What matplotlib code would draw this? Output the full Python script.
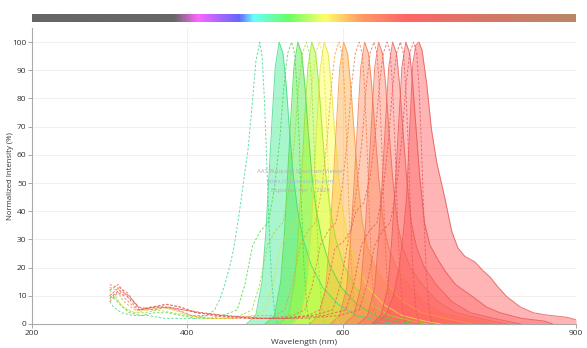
import matplotlib
matplotlib.use("Agg")
import matplotlib.pyplot as plt
import numpy as np
from matplotlib.colors import LinearSegmentedColormap

plt.rcParams['font.family'] = ['Open Sans', 'DejaVu Sans']

# ---- emission spectra (filled): wavelength (nm), normalized intensity (%) ----
em1_wl = [476, 488, 496, 501, 505, 509, 513, 518, 523, 527, 531, 536, 542, 549, 559, 574, 594, 618, 648, 668]
em1_v  = [0, 3, 15, 33, 53, 73, 91, 100, 96, 85, 70, 53, 40, 30, 21, 13, 7, 3, 1, 0]

em2_wl = [500, 512, 520, 525, 529, 533, 537, 542, 547, 551, 555, 560, 566, 573, 583, 598, 618, 642, 672, 692]
em2_v  = [0, 3, 15, 33, 53, 73, 91, 100, 96, 85, 70, 53, 40, 30, 21, 13, 7, 3, 1, 0]

em3_wl = [518, 530, 538, 543, 547, 551, 555, 560, 565, 569, 573, 578, 584, 591, 601, 616, 636, 660, 690, 710]
em3_v  = [0, 3, 15, 33, 53, 73, 91, 100, 96, 85, 70, 53, 40, 30, 21, 13, 7, 3, 1, 0]

em4_wl = [534, 546, 554, 559, 563, 567, 571, 576, 581, 585, 589, 594, 600, 607, 617, 632, 652, 676, 706, 726]
em4_v  = [0, 3, 15, 33, 53, 73, 91, 100, 96, 85, 70, 53, 40, 30, 21, 13, 7, 3, 1, 0]

em5_wl = [557, 569, 578, 583, 588, 592, 596, 601, 606, 610, 614, 619, 625, 632, 642, 657, 677, 701, 731, 766]
em5_v  = [0, 3, 13, 30, 52, 72, 91, 100, 96, 85, 70, 52, 36, 27, 20, 14, 8, 4, 2, 0]

em6_wl = [584, 596, 605, 610, 615, 619, 623, 628, 633, 637, 641, 646, 652, 659, 669, 684, 704, 728, 758, 793]
em6_v  = [0, 3, 13, 30, 52, 72, 91, 100, 96, 85, 70, 52, 36, 27, 20, 14, 8, 4, 2, 0]

em7_wl = [602, 614, 623, 628, 633, 637, 641, 646, 651, 655, 659, 664, 670, 677, 687, 702, 722, 746, 776, 811]
em7_v  = [0, 3, 13, 30, 52, 72, 91, 100, 96, 85, 70, 52, 36, 27, 20, 14, 8, 4, 2, 0]

em8_wl = [620, 632, 641, 646, 651, 655, 659, 664, 669, 673, 677, 682, 688, 695, 705, 720, 740, 764, 794, 829]
em8_v  = [0, 3, 13, 30, 52, 72, 91, 100, 96, 85, 70, 52, 36, 27, 20, 14, 8, 4, 2, 0]

em9_wl = [637, 649, 658, 663, 668, 672, 676, 681, 686, 690, 694, 699, 705, 712, 722, 731, 745, 767, 785, 802, 830, 860, 870]
em9_v  = [0, 3, 13, 30, 52, 72, 91, 100, 96, 85, 70, 52, 36, 28, 23, 19, 14, 9.7, 6, 4, 2, 1, 0]

em10_wl = [640, 655, 665, 673, 678, 682, 686, 690, 694, 698, 702, 708, 714, 721, 731, 740, 748, 757, 770, 780, 789, 800, 811, 828, 845, 862, 888, 900]
em10_v  = [0, 3, 10, 21, 33, 45, 69, 92.5, 99, 100, 97, 85, 69, 57, 45, 33, 27, 24, 22, 19, 16.8, 13, 9.7, 6.1, 4, 3.2, 2.4, 1.5]

# ---- excitation spectra (dashed) ----
ex1_wl = [300, 305, 315, 330, 350, 370, 390, 410, 425, 435, 442, 448, 454, 459, 466, 472, 478, 484, 488, 493, 496, 499, 502, 505, 508, 512, 516]
ex1_v  = [8, 6, 4, 3, 3, 2, 2, 2, 3, 5, 9, 14, 20, 26, 38, 50, 62, 80, 93, 100, 95, 80, 58, 35, 17, 4, 0]

ex2_wl = [300, 306, 313, 325, 340, 358, 375, 392, 410, 430, 445, 455,
          464, 474, 484, 494, 504, 512, 519, 524, 529, 534, 538, 541, 544, 547, 550, 554, 558]
ex2_v  = [10, 9, 7, 4, 3, 4, 4, 3, 2, 2, 3, 4,
          5, 14, 28, 33, 36, 48, 66, 84, 96, 100, 96, 84, 64, 40, 20, 5, 0]

ex3_wl = [300, 307, 316, 330, 345, 362, 380, 400, 425, 450, 468,
          483, 493, 503, 513, 523, 531, 538, 543, 548, 553, 557, 560, 563, 566, 569, 573, 577]
ex3_v  = [12, 10, 6, 4, 4, 5, 4, 3, 2, 2, 3,
          5, 14, 28, 33, 36, 48, 66, 84, 96, 100, 96, 84, 64, 40, 20, 5, 0]

ex4_wl = [300, 308, 318, 332, 348, 365, 382, 400, 425, 455, 485,
          500, 510, 520, 530, 540, 548, 555, 560, 565, 570, 574, 577, 580, 583, 586, 590, 594]
ex4_v  = [11, 9, 6, 4, 5, 6, 5, 3, 2, 2, 3,
          5, 14, 28, 33, 36, 48, 66, 84, 96, 100, 96, 84, 64, 40, 20, 5, 0]

ex5_wl = [300, 309, 318, 332, 350, 368, 385, 405, 430, 460, 490, 512,
          525, 535, 545, 555, 565, 573, 580, 585, 590, 595, 599, 602, 605, 608, 611, 615, 619]
ex5_v  = [13, 12, 8, 5, 5, 6, 5, 3, 2, 2, 3, 3,
          5, 14, 28, 33, 36, 48, 66, 84, 96, 100, 96, 84, 64, 40, 20, 5, 0]

ex6_wl = [300, 310, 320, 335, 352, 370, 388, 405, 430, 460, 500, 535,
          551, 561, 571, 581, 591, 599, 606, 611, 616, 621, 625, 628, 631, 634, 637, 641, 645]
ex6_v  = [14, 13, 9, 5, 6, 6, 5, 3, 3, 2, 2, 3,
          5, 14, 28, 33, 36, 48, 66, 84, 96, 100, 96, 84, 64, 40, 20, 5, 0]

ex7_wl = [300, 311, 322, 336, 354, 372, 390, 410, 440, 480, 520, 555,
          570, 580, 590, 600, 610, 618, 625, 630, 635, 640, 644, 647, 650, 653, 656, 660, 664]
ex7_v  = [12, 14, 10, 5, 6, 7, 6, 4, 3, 2, 2, 3,
          5, 14, 27, 29, 33, 48, 66, 84, 96, 100, 96, 84, 64, 40, 20, 5, 0]

ex8_wl = [300, 312, 323, 338, 356, 374, 392, 412, 440, 480, 520, 560,
          587, 597, 607, 617, 627, 635, 642, 647, 652, 657, 661, 664, 667, 670, 673, 677, 681]
ex8_v  = [10, 13, 11, 5, 6, 7, 6, 4, 3, 2, 2, 3,
          5, 14, 30, 40, 43, 52, 68, 85, 96, 100, 96, 84, 64, 40, 20, 5, 0]

ex9_wl = [300, 312, 325, 340, 358, 376, 395, 415, 445, 490, 530, 575,
          604, 614, 624, 634, 644, 652, 659, 664, 669, 674, 678, 681, 684, 687, 690, 694, 698]
ex9_v  = [9, 12, 10, 5, 6, 6, 5, 4, 3, 2, 2, 3,
          5, 14, 28, 33, 36, 48, 66, 84, 96, 100, 96, 84, 64, 40, 20, 5, 0]

ex10_wl = [300, 310, 322, 338, 356, 375, 395, 420, 450, 500, 550, 595,
           621, 631, 641, 651, 661, 669, 676, 681, 686, 691, 695, 698, 701, 704, 707, 711, 715]
ex10_v  = [8, 11, 10, 6, 5, 6, 5, 4, 3, 2, 2, 3,
           5, 14, 28, 33, 36, 48, 66, 84, 96, 100, 96, 84, 64, 40, 20, 5, 0]

emissions = [(em1_wl, em1_v), (em2_wl, em2_v), (em3_wl, em3_v), (em4_wl, em4_v), (em5_wl, em5_v),
             (em6_wl, em6_v), (em7_wl, em7_v), (em8_wl, em8_v), (em9_wl, em9_v), (em10_wl, em10_v)]
excitations = [(ex1_wl, ex1_v), (ex2_wl, ex2_v), (ex3_wl, ex3_v), (ex4_wl, ex4_v), (ex5_wl, ex5_v),
               (ex6_wl, ex6_v), (ex7_wl, ex7_v), (ex8_wl, ex8_v), (ex9_wl, ex9_v), (ex10_wl, ex10_v)]

fill_colors = ['#41eb91', '#4beb41', '#a5ff23', '#ffff43', '#ffab41',
               '#ff8a55', '#ff7a5c', '#ff6a60', '#ff6060', '#ff5c5c']
fill_alpha = [0.45, 0.45, 0.45, 0.45, 0.45, 0.42, 0.40, 0.40, 0.40, 0.45]
line_colors = ['#3fd88a', '#4cd844', '#9ade2a', '#e6de40', '#f29a40',
               '#ee7a50', '#ea6c55', '#e66058', '#e25656', '#e25858']

x_ticks = [200, 400, 600, 900]
y_ticks = list(range(0, 101, 10))

fig = plt.figure(figsize=(5.87, 3.48), dpi=100)
ax = fig.add_axes([32 / 587, 24 / 348, 544 / 587, 296 / 348])

for (wl, v), fc, fa, lc in zip(emissions, fill_colors, fill_alpha, line_colors):
    ax.fill_between(wl, v, 0, color=fc, alpha=fa, linewidth=0, zorder=2)
    ax.plot(wl, v, color=lc, lw=0.7, alpha=0.8, zorder=3)

for (wl, v), lc in zip(excitations, line_colors):
    ax.plot(wl, v, color=lc, lw=0.7, alpha=0.8, dashes=(2.5, 1.8), zorder=4)

ax.set_xlim(200, 900)
ax.set_ylim(0, 105)
ax.set_xticks(x_ticks)
ax.set_yticks(y_ticks)
ax.tick_params(axis='both', labelsize=6, length=3, width=0.6, pad=1,
               colors='#999999', labelcolor='#333333')
ax.grid(True, color='#eeeeee', lw=0.6, zorder=0)
ax.set_axisbelow(True)
for side in ('top', 'right'):
    ax.spines[side].set_visible(False)
for side in ('left', 'bottom'):
    ax.spines[side].set_color('#aaaaaa')
    ax.spines[side].set_linewidth(0.8)

ax.set_xlabel('Wavelength (nm)', fontsize=6, color='#333333', labelpad=2)
ax.set_ylabel('Normalized Intensity (%)', fontsize=5.6, color='#333333')
ax.yaxis.set_label_coords(-0.034, 0.5)

# watermark
ax.text(545, 54.0, 'AAT Bioquest Spectrum Viewer', fontsize=4.3, color='#b0b0b0', ha='center', va='center', zorder=5)
ax.text(545, 50.6, 'https://www.aatbio.com', fontsize=4.3, color='#a9b8e0', ha='center', va='center', zorder=5)
ax.text(545, 47.3, 'Exported Apr 1, 2024', fontsize=4.3, color='#b0b0b0', ha='center', va='center', zorder=5)

# spectrum color bar on top
cax = fig.add_axes([32 / 587, (348 - 22) / 348, 544 / 587, 8 / 348])
stops = [(200, '#666666'), (382, '#666666'), (413, '#ff66ff'), (440, '#aa66ff'), (466, '#6666ff'),
         (485, '#66ffff'), (529, '#66ff66'), (577, '#ffff66'), (625, '#ff9966'), (682, '#ff6666'),
         (790, '#d47766'), (900, '#b88866')]
cmap = LinearSegmentedColormap.from_list('spec', [((w - 200) / 700, c) for w, c in stops])
cax.imshow(np.linspace(0, 1, 700)[None, :], aspect='auto', cmap=cmap, extent=(200, 900, 0, 1))
cax.set_axis_off()

fig.savefig('out.png', dpi=100)
